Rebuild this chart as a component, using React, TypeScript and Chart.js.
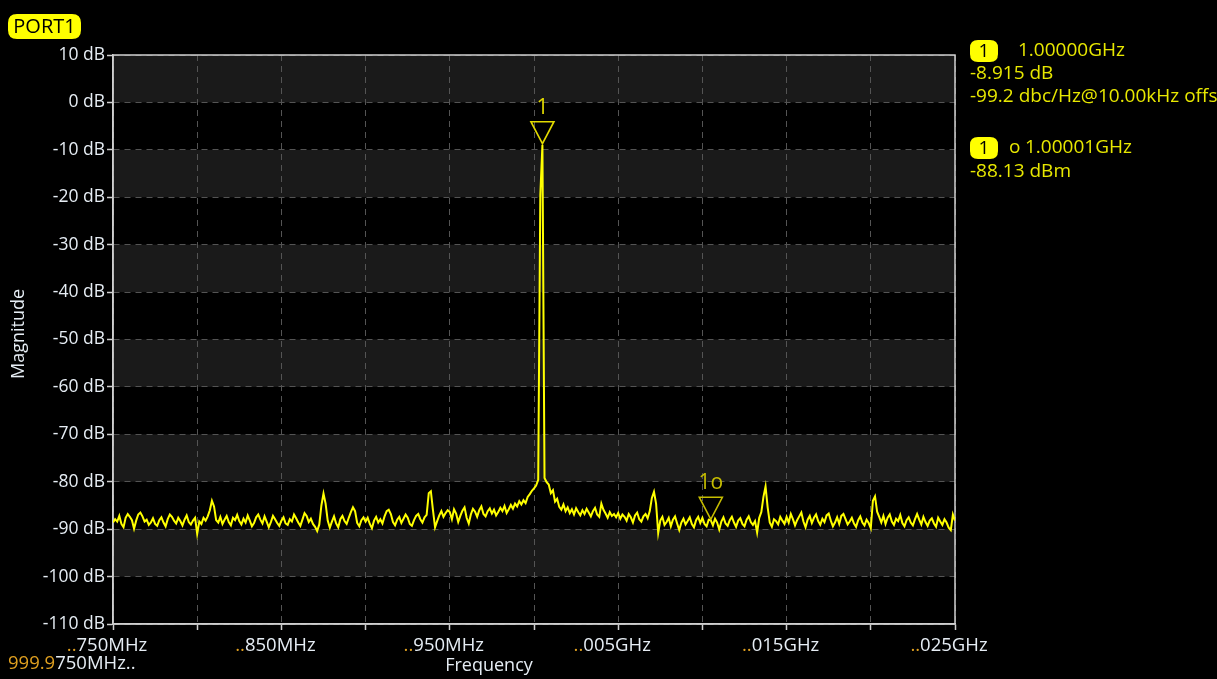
import React, { useEffect, useRef } from 'react';
import { Chart, registerables } from 'chart.js';

Chart.register(...registerables);

// ---- frequency grid of the trace (Hz) ----
const START_HZ = 999975000;
const STEP_HZ = 125;
const X_MIN_HZ = 999975000;
const X_MAX_HZ = 1000025000;
const X_GRID_HZ = 5000;

// ---- magnitude axis (dB) ----
const Y_MIN_DB = -110;
const Y_MAX_DB = 10;
const Y_STEP_DB = 10;

// ---- trace magnitude (dB), one value per STEP_HZ ----
const traceDb = [
  -88.6, -87.9, -88.4, -87.2, -88.9, -89.6, -87.6, -86.8, -87.4, -88.1,
  -89.9, -88.2, -86.9, -86.5, -87.3, -88.4, -88.0, -89.1, -88.6, -87.7,
  -88.9, -89.3, -88.1, -87.5, -88.6, -89.4, -87.9, -86.9, -87.4, -88.2,
  -88.8, -87.6, -88.3, -89.2, -88.0, -87.1, -88.5, -89.0, -88.2, -87.6,
  -91.0, -88.4, -88.9, -87.6, -88.2, -87.3, -86.0, -84.0, -85.2, -88.1,
  -88.6, -87.4, -88.9, -88.0, -87.2, -88.5, -89.2, -87.6, -88.1, -87.0,
  -88.3, -89.0, -87.8, -88.6, -87.1, -88.2, -89.4, -88.7, -87.5, -86.9,
  -88.0, -88.8, -87.3, -88.4, -89.6, -88.5, -87.2, -87.9, -88.7, -89.3,
  -88.2, -87.5, -88.8, -89.1, -87.9, -88.4, -86.9, -87.7, -88.6, -89.3,
  -88.0, -86.6, -87.2, -88.5, -87.8, -88.9, -89.5, -90.4, -89.0, -85.0,
  -82.5, -84.6, -88.2, -89.7, -88.4, -87.3, -88.8, -89.6, -87.9, -87.2,
  -88.3, -88.9, -87.6, -86.4, -85.4, -86.2, -88.7, -89.4, -88.1, -87.5,
  -88.4, -87.6, -88.9, -89.8, -88.2, -87.4, -88.6, -87.9, -88.8, -87.3,
  -86.2, -85.9, -86.8, -88.5, -89.2, -88.0, -87.4, -88.7, -87.8, -86.9,
  -87.6, -88.9, -89.3, -88.1, -87.2, -86.8, -87.9, -88.6, -87.5, -87.0,
  -82.4, -82.0, -86.0, -89.6, -88.3, -87.1, -86.2, -87.4, -86.6, -86.0,
  -86.4, -87.9, -85.8, -86.7, -88.5, -87.2, -86.1, -85.4, -87.6, -88.8,
  -86.9, -85.7, -86.3, -87.4, -86.0, -85.2, -86.8, -87.3, -86.2, -85.6,
  -86.7, -85.9, -87.1, -86.4, -85.5, -86.2, -85.1, -86.6, -85.8, -84.9,
  -85.7, -84.6, -85.2, -84.1, -84.8, -83.9, -84.5, -83.2, -82.6, -81.9,
  -81.4, -80.8, -79.6, -19.5, -8.915, -79.2, -80.1, -80.6, -82.4, -81.8,
  -84.2, -83.6, -85.3, -85.9, -84.8, -86.2, -85.4, -86.6, -85.8, -86.9,
  -85.6, -86.4, -87.1, -86.0, -86.8, -85.7, -86.5, -87.3, -86.2, -85.5,
  -86.9, -87.4, -84.6, -85.9, -86.7, -87.6, -86.4, -87.2, -86.8, -87.5,
  -86.6, -87.8, -86.9, -87.4, -88.2, -86.8, -87.5, -88.6, -87.1, -86.5,
  -87.9, -88.4, -87.3, -86.8, -87.7, -86.2, -83.4, -82.1, -84.6, -90.8,
  -88.2, -87.4, -89.1, -88.5, -87.6, -89.4, -88.0, -87.3, -88.8, -90.2,
  -88.6, -87.8, -89.0, -88.3, -87.5, -88.9, -89.6, -88.1, -87.4, -88.7,
  -87.6, -88.9, -89.4, -88.0, -88.13, -89.2, -87.8, -88.6, -90.1, -88.4,
  -87.5, -88.8, -89.3, -88.1, -87.4, -88.6, -89.5, -88.2, -87.7, -88.9,
  -89.4, -88.0, -87.3, -88.5, -89.1, -88.3, -90.7, -87.6, -86.4, -83.2,
  -81.0, -85.4, -88.6, -89.5, -87.9, -88.3, -89.0, -87.4, -88.2, -88.9,
  -87.4, -88.6, -86.8, -87.9, -89.2, -88.1, -87.3, -86.5, -88.4, -89.6,
  -88.0, -87.2, -88.7, -87.6, -86.9, -88.3, -89.1, -87.8, -88.5, -87.1,
  -86.7, -88.2, -89.4, -88.6, -87.5, -88.9, -87.2, -86.8, -87.9, -89.0,
  -88.4, -87.6, -88.8, -89.5, -88.1, -87.3, -88.6, -89.2, -88.0, -88.7,
  -89.8, -84.0, -83.1, -86.3, -87.4, -88.6, -87.2, -88.9, -87.6, -86.9,
  -88.4, -89.1, -87.8, -88.3, -87.0, -88.7, -89.4, -88.1, -87.5, -88.6,
  -89.2, -87.9, -86.8, -88.0, -89.0, -87.4, -88.5, -89.3, -88.2, -87.7,
  -88.8, -89.5, -87.6, -88.4, -89.1, -87.9, -88.6, -89.7, -90.2, -86.9,
  -88.2,
];

// ---- x tick labels (every second grid line) ----
const xTickValuesHz = [999975000, 999985000, 999995000, 1000005000, 1000015000, 1000025000];
const xTickPrefix = '..';
const xTickLabels = ['750MHz', '850MHz', '950MHz', '005GHz', '015GHz', '025GHz'];
const xStartPrefix = '999.9';
const xStartRest = '750MHz..';
const xTitle = 'Frequency';
const yTitle = 'Magnitude';
const yUnit = ' dB';
const portLabel = 'PORT1';

// ---- markers ----
const markerFreqsHz = [1000000500, 1000010500];
const markerValuesDb = [-8.915, -88.13];
const markerTags = ['1', '1o'];
const markerColors = ['#e2da00', '#c6bd00'];

// ---- readout panel ----
const readout1Freq = '1.00000GHz';
const readout1Lines = ['-8.915 dB', '-99.2 dbc/Hz@10.00kHz offset'];
const readout2Freq = '1.00001GHz';
const readout2Lines = ['-88.13 dBm'];

const FONT = '"Open Sans", "DejaVu Sans", sans-serif';
const font = (px: number) => `${px}px ${FONT}`;
const WHITE = '#e6edf4';
const ORANGE = '#e0a020';
const YELLOW_TXT = '#e8e800';
const BADGE = '#ffff00';

function roundRect(ctx: CanvasRenderingContext2D, x: number, y: number, w: number, h: number, r: number) {
  ctx.beginPath();
  ctx.moveTo(x + r, y);
  ctx.lineTo(x + w - r, y);
  ctx.quadraticCurveTo(x + w, y, x + w, y + r);
  ctx.lineTo(x + w, y + h - r);
  ctx.quadraticCurveTo(x + w, y + h, x + w - r, y + h);
  ctx.lineTo(x + r, y + h);
  ctx.quadraticCurveTo(x, y + h, x, y + h - r);
  ctx.lineTo(x, y + r);
  ctx.quadraticCurveTo(x, y, x + r, y);
  ctx.closePath();
}

const spectrumPlugin = {
  id: 'spectrumDecor',
  beforeDraw(chart: any) {
    const { ctx, chartArea: a, scales } = chart;
    const y = scales.y;
    ctx.save();
    ctx.fillStyle = '#000';
    ctx.fillRect(0, 0, chart.width, chart.height);
    let k = 0;
    for (let v = Y_MAX_DB; v > Y_MIN_DB; v -= Y_STEP_DB, k++) {
      if (k % 2 === 0) {
        const t = y.getPixelForValue(v);
        const b = y.getPixelForValue(v - Y_STEP_DB);
        ctx.fillStyle = '#1a1a1a';
        ctx.fillRect(a.left, t, a.right - a.left, b - t);
      }
    }
    ctx.restore();
  },
  beforeDatasetsDraw(chart: any) {
    const { ctx, chartArea: a } = chart;
    ctx.save();
    ctx.strokeStyle = '#cfcfcf';
    ctx.lineWidth = 1.5;
    ctx.setLineDash([]);
    ctx.strokeRect(a.left, a.top, a.right - a.left, a.bottom - a.top);
    ctx.restore();
  },
  afterDraw(chart: any) {
    const { ctx, chartArea: a, scales } = chart;
    const xs = scales.x;
    const ys = scales.y;
    ctx.save();
    ctx.setLineDash([]);

    // x tick labels
    ctx.font = font(18.5);
    ctx.textBaseline = 'middle';
    ctx.textAlign = 'left';
    xTickValuesHz.forEach((v, k) => {
      const px = xs.getPixelForValue(v) - 6;
      const w1 = ctx.measureText(xTickPrefix).width;
      const w2 = ctx.measureText(xTickLabels[k]).width;
      const x0 = px - (w1 + w2) / 2;
      ctx.fillStyle = ORANGE;
      ctx.fillText(xTickPrefix, x0, a.bottom + 22);
      ctx.fillStyle = WHITE;
      ctx.fillText(xTickLabels[k], x0 + w1, a.bottom + 22);
    });
    // start frequency
    const ws = ctx.measureText(xStartPrefix).width;
    ctx.fillStyle = ORANGE;
    ctx.fillText(xStartPrefix, 8, a.bottom + 40);
    ctx.fillStyle = WHITE;
    ctx.fillText(xStartRest, 8 + ws, a.bottom + 40);
    // x title
    ctx.font = font(18);
    ctx.textAlign = 'center';
    ctx.fillText(xTitle, 489, a.bottom + 42);
    // y title
    ctx.save();
    ctx.translate(19, 334);
    ctx.rotate(-Math.PI / 2);
    ctx.fillText(yTitle, 0, 0);
    ctx.restore();

    // port badge
    ctx.fillStyle = BADGE;
    roundRect(ctx, 8, 14, 73, 25, 9);
    ctx.fill();
    ctx.fillStyle = '#000';
    ctx.font = font(20);
    ctx.textAlign = 'center';
    ctx.fillText(portLabel, 44.5, 27);

    // markers on the trace
    markerFreqsHz.forEach((f, k) => {
      const px = xs.getPixelForValue(f);
      const py = ys.getPixelForValue(markerValuesDb[k]);
      ctx.strokeStyle = markerColors[k];
      ctx.lineWidth = 1.6;
      ctx.beginPath();
      ctx.moveTo(px, py - 1);
      ctx.lineTo(px - 11.5, py - 23);
      ctx.lineTo(px + 11.5, py - 23);
      ctx.closePath();
      ctx.stroke();
      ctx.fillStyle = markerColors[k];
      ctx.font = font(21);
      ctx.textAlign = 'center';
      ctx.fillText(markerTags[k], px, py - 37);
    });

    // readout panel
    ctx.font = font(19);
    ctx.textAlign = 'left';
    const badge = (bx: number, by: number) => {
      ctx.fillStyle = BADGE;
      roundRect(ctx, bx, by, 28, 22, 8);
      ctx.fill();
      ctx.fillStyle = '#000';
      ctx.textAlign = 'center';
      ctx.fillText('1', bx + 14, by + 11.5);
      ctx.textAlign = 'left';
    };
    badge(970, 40);
    ctx.fillStyle = YELLOW_TXT;
    ctx.fillText(readout1Freq, 1018, 51);
    readout1Lines.forEach((s, k) => ctx.fillText(s, 970, 74 + k * 23));
    badge(970, 137);
    ctx.fillStyle = YELLOW_TXT;
    ctx.fillText('o', 1009, 148);
    ctx.fillText(readout2Freq, 1025, 148);
    readout2Lines.forEach((s, k) => ctx.fillText(s, 970, 172 + k * 23));

    ctx.restore();
  },
};

export default function App() {
  const canvasRef = useRef<HTMLCanvasElement | null>(null);

  useEffect(() => {
    const canvas = canvasRef.current;
    if (!canvas) return;
    const points = traceDb.map((v, i) => ({ x: START_HZ + i * STEP_HZ, y: v }));
    const gridOpts = {
      color: '#545454',
      lineWidth: 1,
      drawTicks: true,
      tickLength: 6,
      tickColor: '#cfcfcf',
      tickWidth: 1.5,
      tickBorderDash: [],
    };
    const chart = new Chart(canvas, {
      type: 'line',
      data: {
        datasets: [
          {
            data: points,
            borderColor: '#ffff00',
            borderWidth: 2,
            pointRadius: 0,
            tension: 0,
            fill: false,
          },
        ],
      },
      options: {
        animation: false,
        responsive: false,
        maintainAspectRatio: false,
        events: [],
        layout: { padding: { top: 55, right: 262, left: 0, bottom: 0 } },
        plugins: { legend: { display: false }, tooltip: { enabled: false } },
        scales: {
          x: {
            type: 'linear',
            min: X_MIN_HZ,
            max: X_MAX_HZ,
            ticks: { stepSize: X_GRID_HZ, display: false },
            grid: gridOpts,
            border: { display: true, color: '#cfcfcf', width: 1.5, dash: [6, 5] },
            afterFit: (s: any) => { s.height = 55; },
          },
          y: {
            type: 'linear',
            min: Y_MIN_DB,
            max: Y_MAX_DB,
            ticks: {
              stepSize: Y_STEP_DB,
              color: WHITE,
              font: { family: FONT, size: 17.5 },
              padding: 2,
              callback: (v: any) => `${v}${yUnit}`,
            },
            grid: gridOpts,
            border: { display: true, color: '#cfcfcf', width: 1.5, dash: [6, 5] },
            afterFit: (s: any) => { s.width = 113; },
          },
        },
      } as any,
      plugins: [spectrumPlugin],
    });
    return () => chart.destroy();
  }, []);

  return (
    <div style={{ position: 'fixed', left: 0, top: 0, width: 1217, height: 679, background: '#000', overflow: 'hidden' }}>
      <canvas ref={canvasRef} width={1217} height={679} style={{ display: 'block', width: 1217, height: 679 }} />
    </div>
  );
}
